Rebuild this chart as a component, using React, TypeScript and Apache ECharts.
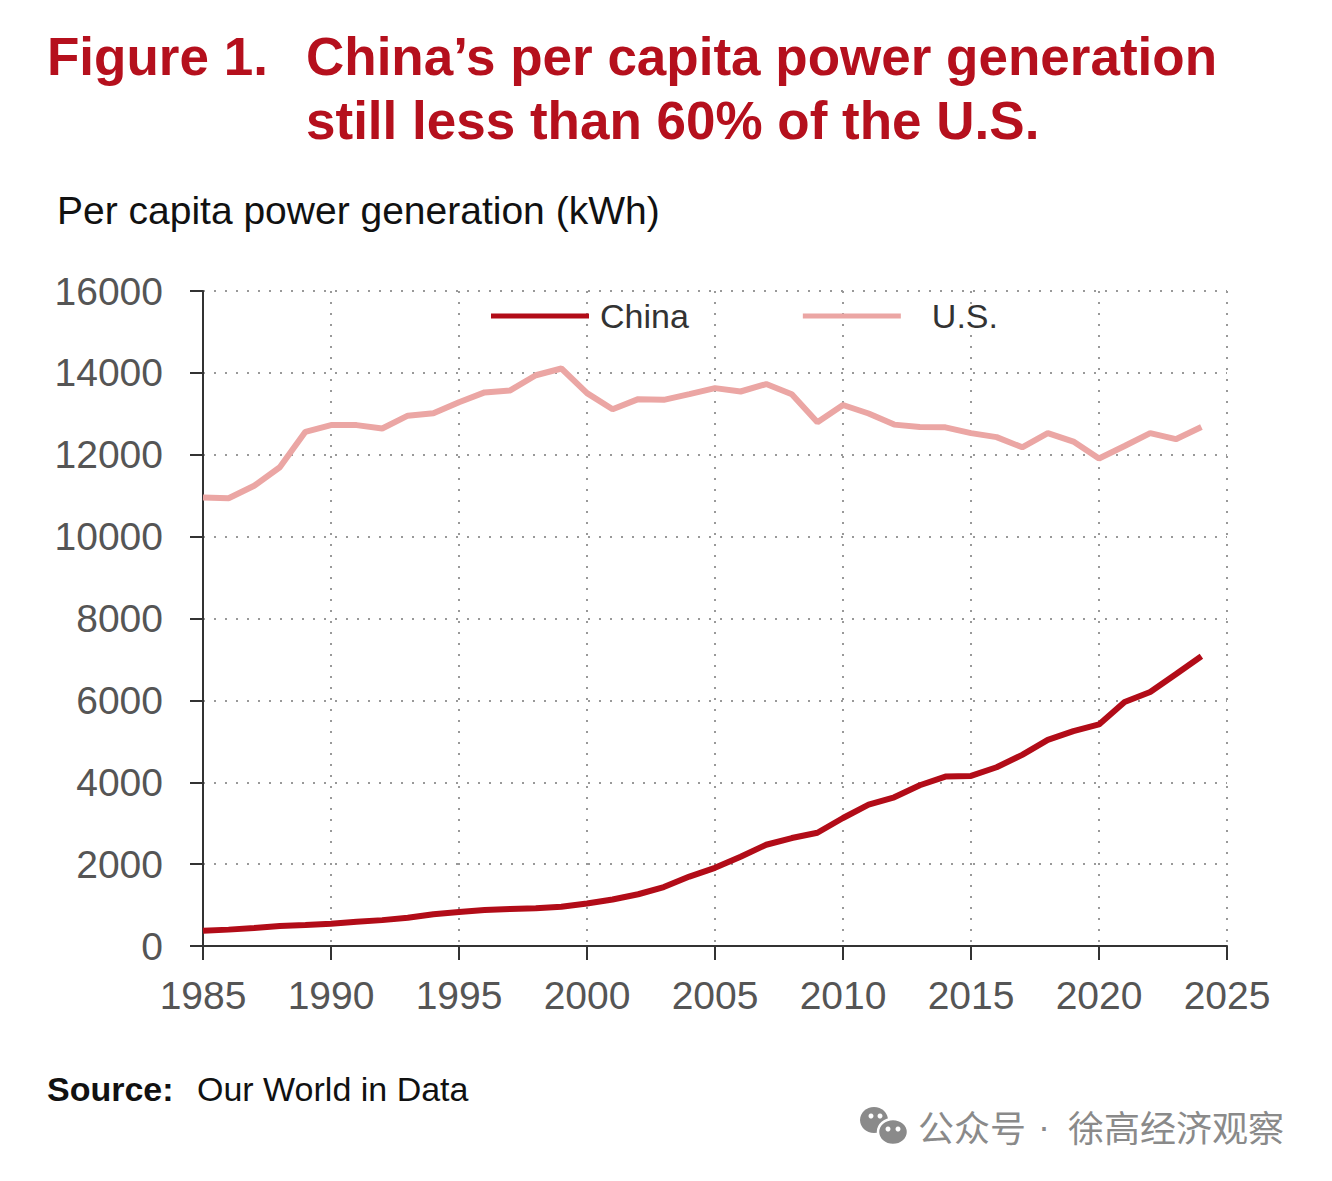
import React, { useEffect, useRef } from "react";
import * as echarts from "echarts";

const years = [
  1985, 1986, 1987, 1988, 1989, 1990, 1991, 1992, 1993, 1994, 1995, 1996, 1997, 1998, 1999,
  2000, 2001, 2002, 2003, 2004, 2005, 2006, 2007, 2008, 2009, 2010, 2011, 2012, 2013, 2014,
  2015, 2016, 2017, 2018, 2019, 2020, 2021, 2022, 2023, 2024,
];

const chinaValues = [
  370, 400, 440, 490, 512, 544, 592, 632, 688, 776, 832, 880, 904, 920, 960,
  1040, 1136, 1264, 1440, 1696, 1910, 2180, 2473, 2637, 2767, 3127, 3453, 3633, 3927, 4139,
  4155, 4367, 4669, 5037, 5249, 5412, 5959, 6204, 6637, 7078,
];

const usValues = [
  10955, 10938, 11243, 11695, 12560, 12724, 12724, 12642, 12955, 13012, 13284, 13523, 13572, 13942, 14107,
  13506, 13111, 13358, 13341, 13481, 13628, 13545, 13727, 13479, 12793, 13215, 13008, 12736, 12678, 12669,
  12529, 12430, 12182, 12529, 12322, 11909, 12215, 12529, 12380, 12678,
];

const seriesNames = ["China", "U.S."];
const seriesColors = ["#b20c18", "#eba6a4"];

const FONT = "'Liberation Sans', Arial, Helvetica, sans-serif";
const CJK = "'Noto Sans CJK SC', sans-serif";
const RED = "#b5101d";

const App: React.FC = () => {
  const chartRef = useRef<HTMLDivElement | null>(null);

  useEffect(() => {
    if (!chartRef.current) return;
    const chart = echarts.init(chartRef.current, undefined, { renderer: "svg" });

    const toPairs = (vals: number[]) => years.map((y, i) => [y, vals[i]]);

    const option = {
      animation: false,
      backgroundColor: "#ffffff",
      textStyle: { fontFamily: FONT },
      grid: { left: 195, right: 97, top: 283, bottom: 227 },
      legend: {
        data: [
          { name: seriesNames[0], textStyle: { padding: [0, 0, 0, 6] } },
          { name: seriesNames[1], textStyle: { padding: [0, 0, 0, 26] } },
        ],
        left: 478,
        top: 286,
        icon: "rect",
        itemWidth: 98,
        itemHeight: 5,
        itemGap: 114,
        textStyle: { fontSize: 34, color: "#333", fontFamily: FONT },
      },
      xAxis: {
        type: "value",
        min: 1985,
        max: 2025,
        interval: 5,
        axisLine: { show: true, lineStyle: { color: "#333", width: 2 } },
        axisTick: { show: true, length: 14, lineStyle: { color: "#333", width: 2 } },
        axisLabel: {
          fontSize: 39,
          color: "#555",
          margin: 30,
          fontFamily: FONT,
          formatter: (v: number) => String(v),
        },
        splitLine: { show: true, lineStyle: { color: "#999", width: 2, type: [2, 9] } },
      },
      yAxis: {
        type: "value",
        min: 0,
        max: 16000,
        interval: 2000,
        axisLine: { show: true, lineStyle: { color: "#333", width: 2 } },
        axisTick: { show: true, length: 13, lineStyle: { color: "#333", width: 2 } },
        axisLabel: {
          fontSize: 39,
          color: "#555",
          margin: 40,
          fontFamily: FONT,
          formatter: (v: number) => String(v),
        },
        splitLine: { show: true, lineStyle: { color: "#999", width: 2, type: [2, 9] } },
      },
      series: [
        {
          name: seriesNames[1],
          type: "line",
          data: toPairs(usValues),
          showSymbol: false,
          itemStyle: { color: seriesColors[1] },
          lineStyle: { color: seriesColors[1], width: 6 },
        },
        {
          name: seriesNames[0],
          type: "line",
          data: toPairs(chinaValues),
          showSymbol: false,
          itemStyle: { color: seriesColors[0] },
          lineStyle: { color: seriesColors[0], width: 6 },
        },
      ],
      graphic: [
        {
          type: "text",
          left: 39,
          top: 16,
          style: { text: "Figure 1.", font: `bold 53px ${FONT}`, fill: RED, lineHeight: 64 },
        },
        {
          type: "text",
          left: 298,
          top: 16,
          style: {
            text: "China\u2019s per capita power generation\nstill less than 60% of the U.S.",
            font: `bold 53px ${FONT}`,
            fill: RED,
            lineHeight: 64,
          },
        },
        {
          type: "text",
          left: 49,
          top: 183,
          style: { text: "Per capita power generation (kWh)", font: `39px ${FONT}`, fill: "#111" },
        },
        {
          type: "text",
          left: 39,
          top: 1064,
          style: { text: "Source:", font: `bold 34px ${FONT}`, fill: "#111" },
        },
        {
          type: "text",
          left: 189,
          top: 1064,
          style: { text: "Our World in Data", font: `34px ${FONT}`, fill: "#111" },
        },
        // WeChat style watermark
        {
          type: "group",
          left: 852,
          top: 1099,
          children: [
            { type: "ellipse", shape: { cx: 14, cy: 14, rx: 14, ry: 13 }, style: { fill: "#8a8a8a" } },
            { type: "circle", shape: { cx: 11, cy: 10, r: 2.5 }, style: { fill: "#fff" } },
            { type: "circle", shape: { cx: 20, cy: 10, r: 2.5 }, style: { fill: "#fff" } },
            {
              type: "ellipse",
              shape: { cx: 33, cy: 26, rx: 15, ry: 13 },
              style: { fill: "#8a8a8a", stroke: "#fff", lineWidth: 2.5 },
            },
            { type: "circle", shape: { cx: 28, cy: 23, r: 2.5 }, style: { fill: "#fff" } },
            { type: "circle", shape: { cx: 38, cy: 23, r: 2.5 }, style: { fill: "#fff" } },
          ],
        },
        {
          type: "text",
          left: 910,
          top: 1100,
          style: { text: "公众号", font: `36px ${CJK}`, fill: "#8a8a8a" },
        },
        {
          type: "text",
          left: 1030,
          top: 1100,
          style: { text: "\u00b7", font: `36px ${FONT}`, fill: "#8a8a8a" },
        },
        {
          type: "text",
          left: 1060,
          top: 1100,
          style: { text: "徐高经济观察", font: `36px ${CJK}`, fill: "#8a8a8a" },
        },
      ],
    };

    chart.setOption(option);
    return () => {
      chart.dispose();
    };
  }, []);

  return <div ref={chartRef} style={{ width: "1316px", height: "1165px" }} />;
};

export default App;
